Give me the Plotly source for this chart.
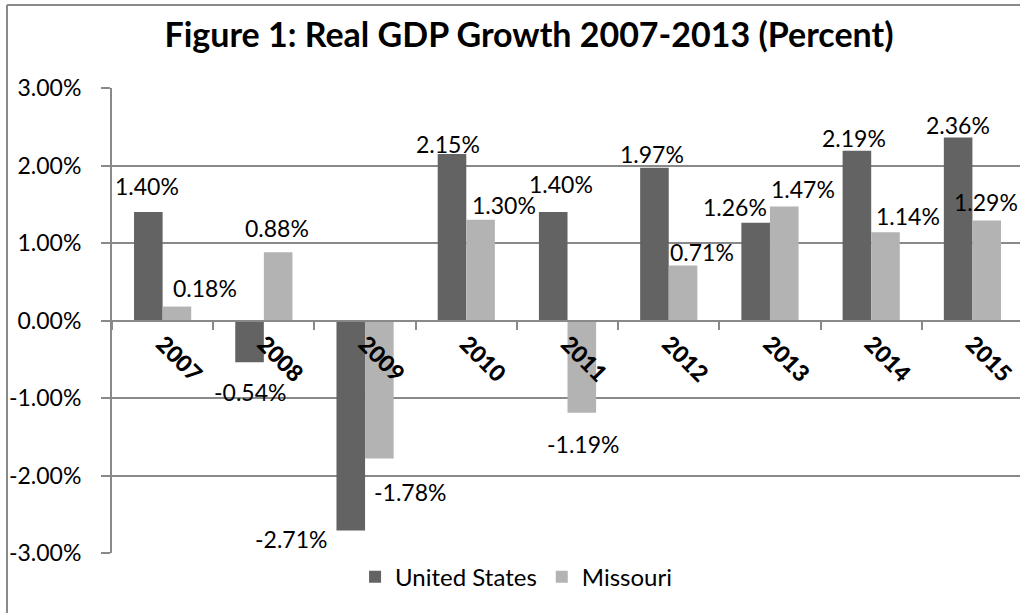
import plotly.graph_objects as go

years = ["2007", "2008", "2009", "2010", "2011", "2012", "2013", "2014", "2015"]
us_growth = [1.40, -0.54, -2.71, 2.15, 1.40, 1.97, 1.26, 2.19, 2.36]
mo_growth = [0.18, 0.88, -1.78, 1.30, -1.19, 0.71, 1.47, 1.14, 1.29]
y_ticks = [-3, -2, -1, 0, 1, 2, 3]
y_tick_labels = ["-3.00%", "-2.00%", "-1.00%", "0.00%", "1.00%", "2.00%", "3.00%"]

# label offsets (pixels) from category centre / bar end, as placed in the source chart
us_label_dx = [-16, -14, -74, -18, -7, -17, -35, -17, -14]
us_label_dy = [26, -30, -8, 10, 28, 14, 16, 13, 13]
mo_label_dx = [42, 13, 45, 38, 15, 33, 33, 37, 14]
mo_label_dy = [19, 24, -34, 15, -31, 13, 18, 16, 19]

US_COLOR = "#636363"
MO_COLOR = "#b3b3b3"
GRID = "#898989"
FONT = "Lato"

fig = go.Figure()
fig.add_trace(go.Bar(x=years, y=us_growth, name="United States", marker_color=US_COLOR,
                     marker_line_width=0))
fig.add_trace(go.Bar(x=years, y=mo_growth, name="Missouri", marker_color=MO_COLOR,
                     marker_line_width=0))

for series, dxs, dys in ((us_growth, us_label_dx, us_label_dy), (mo_growth, mo_label_dx, mo_label_dy)):
    for i, (v, dx, dy) in enumerate(zip(series, dxs, dys)):
        fig.add_annotation(x=i, y=v, xref="x", yref="y", text=f"{v:.2f}%", showarrow=False,
                           xshift=dx, yshift=dy, xanchor="center", yanchor="middle",
                           font=dict(family=FONT, size=23, color="#000000"))

frame_x = (7 - 112) / 908
frame_top = (553 - 5) / 465

fig.update_layout(
    width=1020, height=613,
    margin=dict(l=112, r=0, t=88, b=60),
    paper_bgcolor="white", plot_bgcolor="white",
    barmode="group", bargap=0.435, bargroupgap=0,
    font=dict(family=FONT, size=23, color="#000"),
    title=dict(text="<b>Figure 1: Real GDP Growth 2007-2013 (Percent)</b>",
               x=0.5186, xanchor="center", xref="container",
               y=1 - 35 / 613, yanchor="middle", yref="container",
               font=dict(family=FONT, size=34, color="#000")),
    legend=dict(orientation="h", x=0.445, xanchor="center", y=-0.052, yanchor="middle",
                font=dict(family=FONT, size=24, color="#000"), itemwidth=30,
                bgcolor="rgba(0,0,0,0)", traceorder="normal"),
    xaxis=dict(type="category", range=[-0.5, 8.47], anchor="free", position=0.5,
               showline=True, linecolor=GRID, linewidth=2,
               ticks="outside", tickson="boundaries", ticklen=8, tickcolor=GRID, tickwidth=2,
               tickangle=45, showgrid=False,
               tickfont=dict(family=FONT, size=23, color="#000", weight=900)),
    yaxis=dict(range=[-3, 3], tickvals=y_ticks, ticktext=y_tick_labels,
               showline=True, linecolor=GRID, linewidth=2,
               ticks="outside", ticklen=9, tickcolor=GRID, tickwidth=2,
               showgrid=True, gridcolor=GRID, gridwidth=2, zeroline=False,
               ticklabelstandoff=15,
               tickfont=dict(family=FONT, size=23, color="#000")),
    shapes=[
        dict(type="line", xref="paper", yref="paper", x0=frame_x, x1=frame_x,
             y0=-0.2, y1=frame_top, line=dict(color=GRID, width=2), layer="below"),
        dict(type="line", xref="paper", yref="paper", x0=frame_x, x1=1.0,
             y0=frame_top, y1=frame_top, line=dict(color=GRID, width=2), layer="below"),
    ],
)

fig.write_html("out.html", config={"displayModeBar": False},
               post_script="document.body.style.margin='0';document.body.style.overflow='hidden';")
